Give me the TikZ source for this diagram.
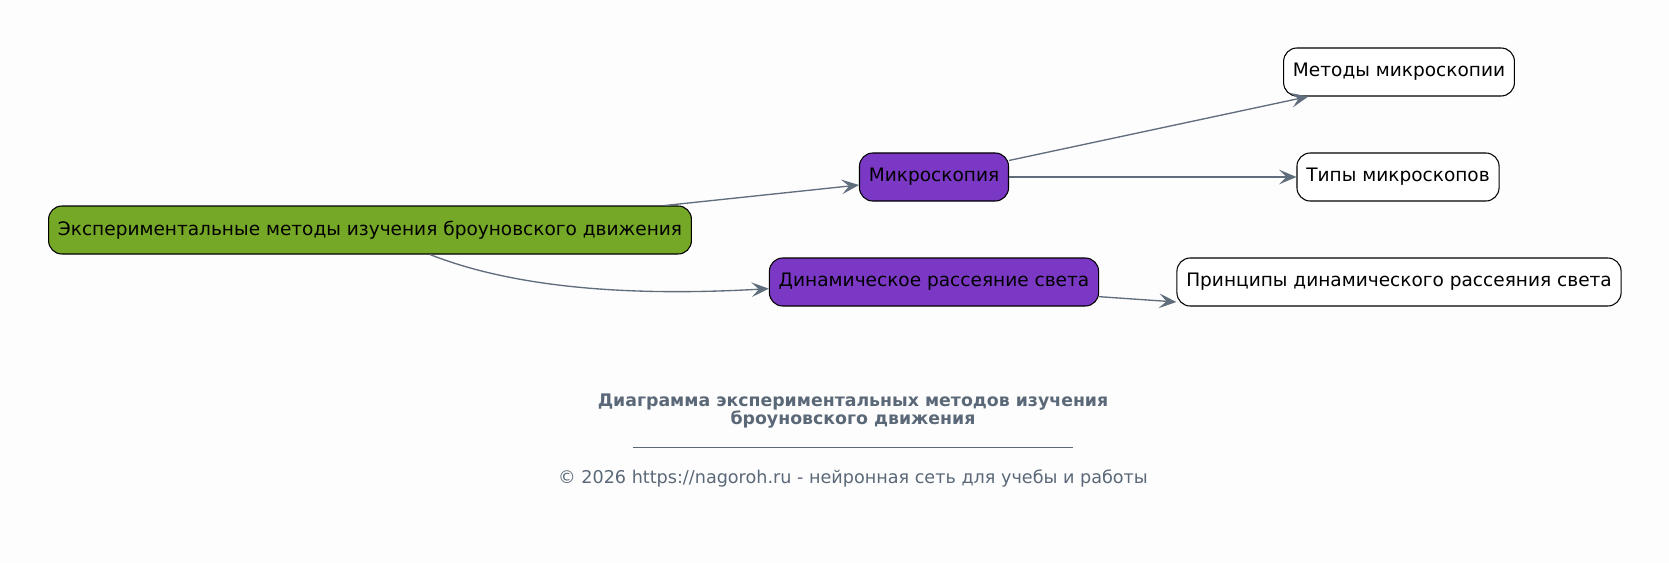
\documentclass[tikz,border=0pt]{standalone}
\usepackage{fontspec}
\setmainfont{DejaVu Sans}
\usetikzlibrary{arrows.meta}

\definecolor{bgcol}{HTML}{FDFDFD}
\definecolor{rootgreen}{HTML}{76A828}
\definecolor{midpurple}{HTML}{7B38C4}
\definecolor{edgegray}{HTML}{5F6D7C}
\definecolor{titlegray}{HTML}{5A6878}

\tikzset{
  box/.style={draw=black, line width=0.8pt, rounded corners=10pt, minimum height=36pt,
    inner xsep=7pt, font=\fontsize{13.9}{16}\selectfont, text=black},
  rootbox/.style={box, fill=rootgreen},
  midbox/.style={box, fill=midpurple},
  leafbox/.style={box, fill=white},
  link/.style={draw=edgegray, line width=1pt, -{Stealth[length=13pt,width=11pt,inset=5.5pt]}}
}

\begin{document}
\begin{tikzpicture}[x=0.75pt, y=-0.75pt]
\useasboundingbox[fill=bgcol] (0,0) rectangle (1669,563);

% nodes
\node[rootbox] (root) at (370,230) {Экспериментальные методы изучения броуновского движения};
\node[midbox] (micro) at (934,177) {Микроскопия};
\node[midbox] (dls) at (934,282) {Динамическое рассеяние света};
\node[leafbox] (methods) at (1399,72) {Методы микроскопии};
\node[leafbox] (types) at (1398,177) {Типы микроскопов};
\node[leafbox] (principles) at (1399,282) {Принципы динамического рассеяния света};

% connectors
\draw[link] ([xshift=-20pt]root.north east) -- ([yshift=-6pt]micro.west);
\draw[link] ([xshift=45pt]root.south) .. controls (520,290) and (640,296) .. ([yshift=-5pt]dls.west);
\draw[link] ([yshift=-6pt]micro.north east) -- ([xshift=-68pt]methods.south);
\draw[link] (micro.east) -- (types.west);
\draw[link] ([yshift=-11pt]dls.east) -- ([yshift=-15pt]principles.west);

% caption
\node[text=titlegray, font=\bfseries\fontsize{13}{14}\selectfont, align=center] (title) at (853,411)
  {Диаграмма экспериментальных методов изучения\\броуновского движения};
\draw[titlegray, line width=0.5pt] (633,447) -- (1073,447);
\node[text=titlegray, font=\fontsize{13.2}{15}\selectfont] (footer) at (853,478)
  {© 2026 https://nagoroh.ru - нейронная сеть для учебы и работы};
\end{tikzpicture}
\end{document}
